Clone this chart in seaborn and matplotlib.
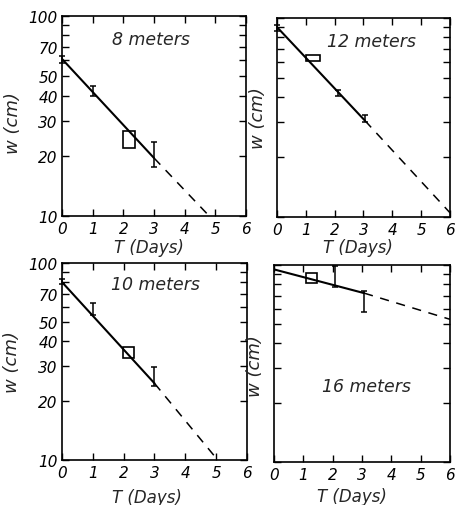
import numpy as np
import pandas as pd
import matplotlib
matplotlib.use("Agg")
import matplotlib.pyplot as plt
import seaborn as sns
from matplotlib.patches import Rectangle
from matplotlib.ticker import FixedLocator, FuncFormatter, NullLocator

# ---------------- data ----------------
depths = ["8 meters", "12 meters", "10 meters", "16 meters"]

# error bars: T, lower w, upper w
err_t = [[0, 1, 3], [0, 2.1, 3.05], [0, 1, 3], [2.08, 3.07]]
err_lo = [[58, 39.8, 17.6], [86, 40.4, 29.9], [78, 54.4, 23.8], [77, 58]]
err_hi = [[63, 44.7, 23.4], [92, 43.6, 32.7], [83, 63, 29.7], [99, 74]]

# open rectangles: T range, w range
box_t_lo = [2.0, 1.0, 1.98, 1.1]
box_t_hi = [2.37, 1.5, 2.34, 1.46]
box_w_lo = [21.9, 61.0, 32.9, 81.5]
box_w_hi = [26.6, 65.4, 37.5, 91.6]

# fitted line (solid) and extrapolation (dashed)
fit_t = [[0, 3.0], [0, 3.05], [0, 3.0], [0, 3.07]]
fit_w = [[61, 19.5], [90, 30.5], [80, 24.5], [95, 72]]
ext_t = [[3.0, 4.8], [3.05, 6.0], [3.0, 5.05], [3.07, 6.0]]
ext_w = [[19.5, 10], [30.5, 10.5], [24.5, 10], [72, 53]]

x_ticks = [0, 1, 2, 3, 4, 5, 6]
y_ticks = [10, 20, 30, 40, 50, 60, 70, 80, 90, 100]
y_labeled = [10, 20, 30, 40, 50, 70, 100]

# ---------------- layout ----------------
sns.set_style("ticks")
plt.rcParams["font.family"] = ["DejaVu Sans"]
plt.rcParams["font.style"] = "italic"

W, H = 456, 506
fig = plt.figure(figsize=(W / 100, H / 100), dpi=100)

# pixel boxes: left, right, top, bottom
boxes = [(62, 246, 17, 217), (277, 450, 19, 218), (62, 247, 264, 461), (274, 450, 266, 463)]
text_pos = [(0.486, 0.885), (0.545, 0.884), (0.503, 0.893), (0.527, 0.386)]
ylab_pos = [(-0.22, 0.47), (-0.06, 0.5), (-0.22, 0.5), (-0.055, 0.49)]
xlab_pos = [(0.47, -0.11), (0.47, -0.105), (0.46, -0.14), (0.44, -0.125)]
show_ylabels = [True, False, True, False]

for i in range(4):
    l, r, t, b = boxes[i]
    ax = fig.add_axes([l / W, 1 - b / H, (r - l) / W, (b - t) / H])
    ax.set_yscale("log")
    ax.set_xlim(0, 6)
    ax.set_ylim(10, 100)

    df_fit = pd.DataFrame({"T": fit_t[i], "w": fit_w[i]})
    df_ext = pd.DataFrame({"T": ext_t[i], "w": ext_w[i]})
    sns.lineplot(data=df_fit, x="T", y="w", ax=ax, color="black", lw=1.5)
    sns.lineplot(data=df_ext, x="T", y="w", ax=ax, color="black", lw=1.1,
                 dashes=False, linestyle=(0, (6, 5)))

    et = np.array(err_t[i])
    lo = np.array(err_lo[i])
    hi = np.array(err_hi[i])
    mid = (lo + hi) / 2
    ax.errorbar(et, mid, yerr=[mid - lo, hi - mid], fmt="none", ecolor="black",
                elinewidth=1.1, capsize=2.5, capthick=1.1, clip_on=False)

    ax.add_patch(Rectangle((box_t_lo[i], box_w_lo[i]), box_t_hi[i] - box_t_lo[i],
                           box_w_hi[i] - box_w_lo[i], fill=False, ec="black", lw=1.2))

    ax.text(text_pos[i][0], text_pos[i][1], depths[i], transform=ax.transAxes,
            ha="center", va="center", fontsize=12.5, style="italic")

    ax.xaxis.set_major_locator(FixedLocator(x_ticks))
    ax.xaxis.set_minor_locator(NullLocator())
    ax.yaxis.set_major_locator(FixedLocator(y_ticks))
    ax.yaxis.set_minor_locator(NullLocator())
    ax.set_xticklabels([str(v) for v in x_ticks], fontsize=11, style="italic")
    if show_ylabels[i]:
        ax.yaxis.set_major_formatter(FuncFormatter(
            lambda v, p: (str(int(round(v))) if int(round(v)) in y_labeled else "")))
    else:
        ax.yaxis.set_major_formatter(FuncFormatter(lambda v, p: ""))
    ax.tick_params(axis="both", which="major", direction="in", length=5, width=1.0,
                   top=True, right=True, colors="black")
    ax.tick_params(axis="x", pad=3.5, labelsize=11)
    ax.tick_params(axis="y", pad=3, labelsize=11)
    for lab in ax.get_yticklabels() + ax.get_xticklabels():
        lab.set_style("italic")

    for s in ax.spines.values():
        s.set_linewidth(1.2)
        s.set_color("black")

    ax.set_xlabel("T (Days)", fontsize=12, style="italic")
    ax.set_ylabel("w (cm)", fontsize=13, style="italic")
    ax.xaxis.set_label_coords(*xlab_pos[i])
    ax.yaxis.set_label_coords(*ylab_pos[i])

fig.savefig("out.png", dpi=100)
